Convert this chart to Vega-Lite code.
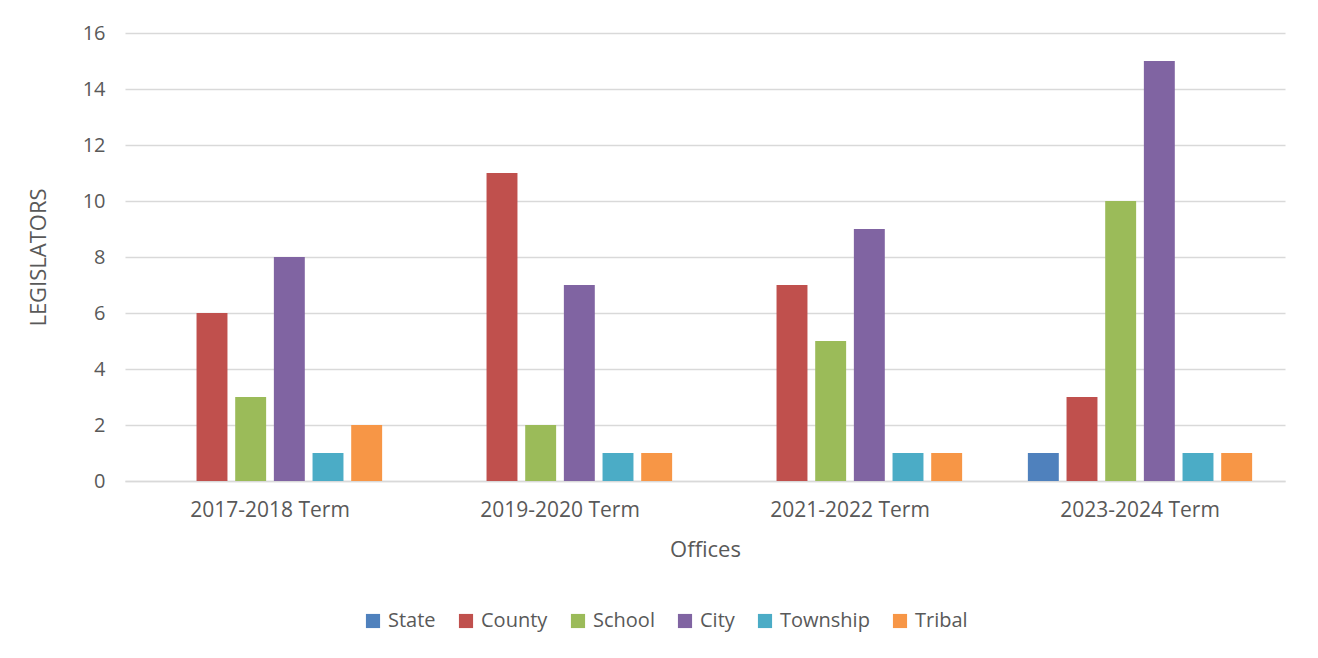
{
  "$schema": "https://vega.github.io/schema/vega-lite/v6.json",
  "width": 1160,
  "height": 448,
  "autosize": {"type": "none"},
  "padding": {"left": 125, "top": 33, "right": 33, "bottom": 177},
  "background": "white",
  "config": {
    "font": "Open Sans",
    "view": {"stroke": null},
    "axis": {"labelColor": "#595959", "titleColor": "#595959", "labelFontWeight": "normal", "titleFontWeight": "normal"},
    "legend": {"labelColor": "#595959"}
  },
  "data": {
    "values": [
      {"term": "2017-2018 Term", "office": "State", "count": 0},
      {"term": "2017-2018 Term", "office": "County", "count": 6},
      {"term": "2017-2018 Term", "office": "School", "count": 3},
      {"term": "2017-2018 Term", "office": "City", "count": 8},
      {"term": "2017-2018 Term", "office": "Township", "count": 1},
      {"term": "2017-2018 Term", "office": "Tribal", "count": 2},
      {"term": "2019-2020 Term", "office": "State", "count": 0},
      {"term": "2019-2020 Term", "office": "County", "count": 11},
      {"term": "2019-2020 Term", "office": "School", "count": 2},
      {"term": "2019-2020 Term", "office": "City", "count": 7},
      {"term": "2019-2020 Term", "office": "Township", "count": 1},
      {"term": "2019-2020 Term", "office": "Tribal", "count": 1},
      {"term": "2021-2022 Term", "office": "State", "count": 0},
      {"term": "2021-2022 Term", "office": "County", "count": 7},
      {"term": "2021-2022 Term", "office": "School", "count": 5},
      {"term": "2021-2022 Term", "office": "City", "count": 9},
      {"term": "2021-2022 Term", "office": "Township", "count": 1},
      {"term": "2021-2022 Term", "office": "Tribal", "count": 1},
      {"term": "2023-2024 Term", "office": "State", "count": 1},
      {"term": "2023-2024 Term", "office": "County", "count": 3},
      {"term": "2023-2024 Term", "office": "School", "count": 10},
      {"term": "2023-2024 Term", "office": "City", "count": 15},
      {"term": "2023-2024 Term", "office": "Township", "count": 1},
      {"term": "2023-2024 Term", "office": "Tribal", "count": 1}
    ]
  },
  "mark": {"type": "bar"},
  "encoding": {
    "x": {
      "field": "term", "type": "nominal",
      "scale": {"paddingInner": 0, "paddingOuter": 0},
      "axis": {"title": "Offices", "labelAngle": 0, "ticks": false, "labelPadding": 18, "labelFontSize": 21, "titleFontSize": 22, "titlePadding": 19, "domainColor": "#D9D9D9", "domainWidth": 1.5}
    },
    "xOffset": {
      "field": "office", "type": "nominal",
      "sort": ["State", "County", "School", "City", "Township", "Tribal"],
      "scale": {"paddingInner": 0.2, "paddingOuter": 0.85}
    },
    "y": {
      "field": "count", "type": "quantitative",
      "scale": {"domain": [0, 16]},
      "axis": {"title": "LEGISLATORS", "values": [0,2,4,6,8,10,12,14,16], "labelOverlap": false, "domain": false, "ticks": false, "labelPadding": 20, "labelFontSize": 20, "titleFontSize": 22, "titlePadding": 32, "gridColor": "#D9D9D9", "gridWidth": 1.5}
    },
    "color": {
      "field": "office", "type": "nominal",
      "sort": ["State", "County", "School", "City", "Township", "Tribal"],
      "scale": {"domain": ["State", "County", "School", "City", "Township", "Tribal"], "range": ["#4F81BD", "#C0504D", "#9BBB59", "#8064A2", "#4BACC6", "#F79646"]},
      "legend": {"title": null, "orient": "none", "legendX": 238, "legendY": 578, "direction": "horizontal", "columns": 6, "symbolType": "square", "symbolSize": 200, "labelFontSize": 20, "columnPadding": 20, "labelOffset": 5, "symbolStrokeWidth": 0, "labelLimit": 300}
    }
  }
}
